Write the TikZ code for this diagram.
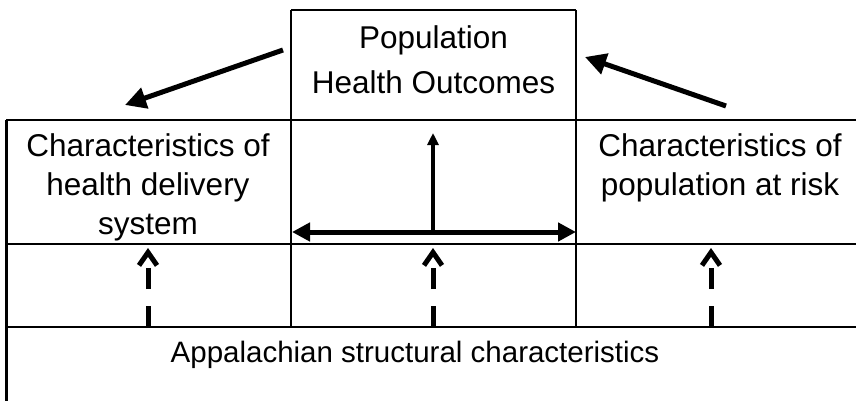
\documentclass[tikz,border=0pt]{standalone}
\usepackage{fontspec}
\setmainfont{Liberation Sans}
\usetikzlibrary{arrows.meta}

\tikzset{
	frame/.style={line width=1.5pt},
	cell/.style={align=center,inner sep=0pt,font=\fontsize{31.5}{39}\selectfont},
	bigarrow/.style={line width=5pt,-{Triangle[length=21pt,width=21pt]}},
	linkarrow/.style={line width=5pt,{Triangle[length=18pt,width=18pt]}-{Triangle[length=18pt,width=18pt]}},
	uparrow/.style={line width=3.5pt,-{Triangle[length=12pt,width=11pt]}},
	dasharrow/.style={line width=5pt,dash pattern=on 21pt off 17pt,-{Straight Barb[length=13pt,width=18pt]}}
}

\begin{document}
\begin{tikzpicture}[x=1pt,y=-1pt]
	\useasboundingbox (0,0) rectangle (856,401);
	% table lines
	\draw[frame] (291,10) -- (576,10);
	\draw[frame] (291,10) -- (291,327);
	\draw[frame] (576,10) -- (576,327);
	\foreach \y in {120,244,327}
		\draw[frame] (6,\y) -- (856,\y);
	\draw[line width=3pt] (6,120) -- (6,401);
	% texts
	\node[cell,font=\fontsize{31.5}{45}\selectfont] (outcome) at (433.5,60) {Population\\Health Outcomes};
	\node[cell] (delivery) at (148,187) {Characteristics of\\health delivery\\system};
	\node[cell] (risk) at (720,168) {Characteristics of\\population at risk};
	\node[cell,font=\fontsize{29.5}{36}\selectfont] (struct) at (415,355) {Appalachian structural characteristics};
	% arrows
	\coordinate (outL) at (283,50);
	\coordinate (outR) at (726,106);
	\coordinate (toL) at (125,105);
	\coordinate (toR) at (585,57);
	\draw[bigarrow] (outL) -- (toL);
	\draw[bigarrow] (outR) -- (toR);
	\coordinate (midL) at (292,232);
	\coordinate (midR) at (576,232);
	\coordinate (midC) at (433,232);
	\coordinate (midT) at (433,133);
	\draw[linkarrow] (midL) -- (midR);
	\draw[uparrow] (midC) -- (midT);
	\foreach \x/\n in {148/a,433/b,711/c}{
		\coordinate (low\n) at (\x,327);
		\coordinate (up\n) at (\x,248);
		\draw[dasharrow] (low\n) -- (up\n);
	}
\end{tikzpicture}
\end{document}
